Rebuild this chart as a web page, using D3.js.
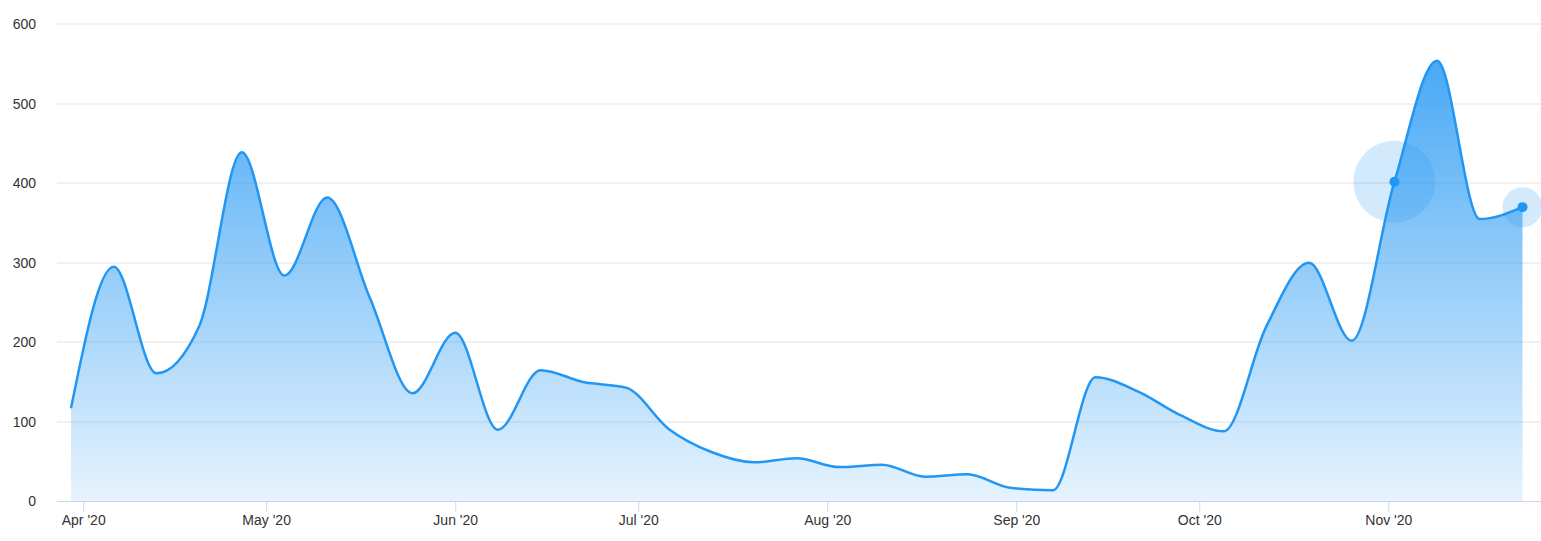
<!DOCTYPE html>
<html>
<head>
<meta charset="utf-8">
<script src="https://cdn.jsdelivr.net/npm/d3@7"></script>
<style>
  html, body { margin: 0; padding: 0; background: #fff; }
  svg { display: block; }
  text { font-family: "Liberation Sans", Arial, Helvetica, sans-serif; }
</style>
</head>
<body>
<svg id="chart" width="1541" height="541"></svg>
<script>
// Weekly data, starting Mon 30 Mar 2020
const startDate = "2020-03-30";
const values = [117, 295, 161, 220, 439, 284, 382, 256, 136, 212, 90, 165, 150, 143, 91, 62, 49, 54, 43, 46, 31, 34, 17, 14, 156, 138, 108, 88, 220, 300, 202, 402, 554, 355, 370];
const yTicks = [0, 100, 200, 300, 400, 500, 600];
const monthTicks = ["2020-04-01", "2020-05-01", "2020-06-01", "2020-07-01", "2020-08-01", "2020-09-01", "2020-10-01", "2020-11-01"];
const highlighted = [{ index: 31, halo: 41 }, { index: 34, halo: 20 }];

const parse = d3.timeParse("%Y-%m-%d");
const t0 = parse(startDate);
const data = values.map((v, i) => ({ date: d3.timeDay.offset(t0, i * 7), value: v }));

const svg = d3.select("#chart");
const plotLeft = 57, plotRight = 1541;

const x = d3.scaleTime()
  .domain([data[0].date, data[data.length - 1].date])
  .range([71, 1522.5]);
const y = d3.scaleLinear().domain([0, 600]).range([501.3, 24.3]);

const blue = "#2196F3";

// gradient
const defs = svg.append("defs");
const grad = defs.append("linearGradient")
  .attr("id", "areaGrad")
  .attr("gradientUnits", "userSpaceOnUse")
  .attr("x1", 0).attr("x2", 0)
  .attr("y1", y(d3.max(values))).attr("y2", y(0));
grad.append("stop").attr("offset", 0).attr("stop-color", blue).attr("stop-opacity", 0.82);
grad.append("stop").attr("offset", 1).attr("stop-color", blue).attr("stop-opacity", 0.11);

// gridlines
svg.append("g")
  .selectAll("line")
  .data(yTicks.filter(d => d > 0))
  .join("line")
  .attr("x1", plotLeft).attr("x2", plotRight)
  .attr("y1", d => Math.round(y(d))).attr("y2", d => Math.round(y(d)))
  .attr("stroke", "#f1f1f1").attr("stroke-width", 2);

// y labels
svg.append("g")
  .selectAll("text")
  .data(yTicks)
  .join("text")
  .attr("x", 36)
  .attr("y", d => y(d))
  .attr("dy", "0.35em")
  .attr("text-anchor", "end")
  .attr("font-size", 14)
  .attr("fill", "#333")
  .text(d => d);

// area + line
const curve = d3.curveMonotoneX;
const area = d3.area()
  .x(d => x(d.date))
  .y0(y(0))
  .y1(d => y(d.value))
  .curve(curve);
const line = d3.line()
  .x(d => x(d.date))
  .y(d => y(d.value))
  .curve(curve);

svg.append("path")
  .datum(data)
  .attr("d", area)
  .attr("fill", "url(#areaGrad)");

// x axis
const xAxis = d3.axisBottom(x)
  .tickValues(monthTicks.map(parse))
  .tickFormat(d3.timeFormat("%b '%y"))
  .tickSize(10)
  .tickSizeOuter(0);
const gx = svg.append("g")
  .attr("transform", `translate(0,${Math.round(y(0)) + 0.5})`)
  .call(xAxis);
gx.select(".domain").remove();
gx.append("line")
  .attr("x1", plotLeft).attr("x2", plotRight)
  .attr("y1", 0).attr("y2", 0)
  .attr("stroke", "#ccd6eb").attr("stroke-width", 1);
gx.selectAll(".tick line").attr("stroke", "#ccd6eb");
gx.selectAll(".tick text")
  .attr("font-family", "\"Liberation Sans\", Arial, sans-serif")
  .attr("font-size", 14)
  .attr("fill", "#333")
  .attr("y", 14)
  .attr("dy", "0.71em");

svg.append("path")
  .datum(data)
  .attr("d", line)
  .attr("fill", "none")
  .attr("stroke", blue)
  .attr("stroke-width", 2.5)
  .attr("stroke-linejoin", "round");

// highlighted points with halos
const hl = svg.append("g");
hl.selectAll("circle.halo")
  .data(highlighted)
  .join("circle")
  .attr("class", "halo")
  .attr("cx", d => x(data[d.index].date))
  .attr("cy", d => y(data[d.index].value))
  .attr("r", d => d.halo)
  .attr("fill", blue)
  .attr("fill-opacity", 0.2);
hl.selectAll("circle.dot")
  .data(highlighted)
  .join("circle")
  .attr("class", "dot")
  .attr("cx", d => x(data[d.index].date))
  .attr("cy", d => y(data[d.index].value))
  .attr("r", 5)
  .attr("fill", blue);
</script>
</body>
</html>
